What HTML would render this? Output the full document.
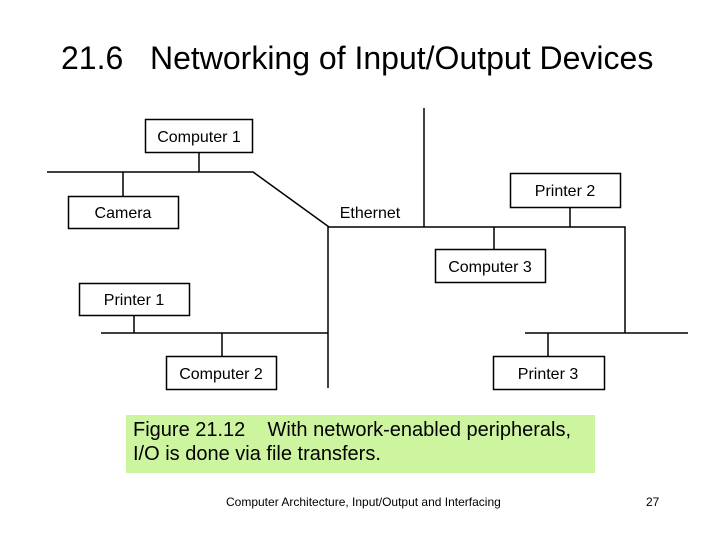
<!DOCTYPE html>
<html><head><meta charset="utf-8"><style>
body{margin:0;width:720px;height:540px;background:#fff;overflow:hidden;position:relative;font-family:"Liberation Sans",sans-serif}
.t{position:absolute;white-space:nowrap}
</style></head><body>
<div class="t" style="left:61px;top:40px;font-size:32px">21.6&nbsp;&nbsp; Networking of Input/Output Devices</div>
<svg width="720" height="540" style="position:absolute;left:0;top:0" font-family="Liberation Sans, sans-serif" font-size="16">
<g stroke="#000" fill="none" stroke-width="1.5">
<rect x="145.5" y="119.5" width="107" height="33"/>
<rect x="68.5" y="196.5" width="110" height="32"/>
<rect x="510.5" y="173.5" width="110" height="34"/>
<rect x="435.5" y="249.5" width="110" height="33"/>
<rect x="79.5" y="283.5" width="110" height="32"/>
<rect x="166.5" y="356.5" width="110" height="33"/>
<rect x="493.5" y="356.5" width="111" height="33"/>
<polyline points="47,172 253,172 329,227 625,227 625,333"/>
<line x1="199" y1="152" x2="199" y2="172"/>
<line x1="123" y1="172" x2="123" y2="196"/>
<line x1="424" y1="108" x2="424" y2="227"/>
<line x1="570" y1="207" x2="570" y2="227"/>
<line x1="494" y1="227" x2="494" y2="249"/>
<line x1="328" y1="227" x2="328" y2="388"/>
<line x1="101" y1="333" x2="328" y2="333"/>
<line x1="134" y1="315" x2="134" y2="333"/>
<line x1="222" y1="333" x2="222" y2="356"/>
<line x1="525" y1="333" x2="688" y2="333"/>
<line x1="548" y1="333" x2="548" y2="356"/>
</g>
<g fill="#000" text-anchor="middle">
<text x="199" y="142">Computer 1</text>
<text x="123" y="218">Camera</text>
<text x="565" y="196">Printer 2</text>
<text x="490" y="272">Computer 3</text>
<text x="134" y="305">Printer 1</text>
<text x="221" y="379">Computer 2</text>
<text x="548" y="379">Printer 3</text>
<text x="370" y="218">Ethernet</text>
</g>
</svg>
<div style="position:absolute;left:126px;top:415px;width:469px;height:58px;background:#cdf5a0"></div>
<div class="t" style="left:133px;top:418px;font-size:20px;line-height:24px">Figure 21.12&nbsp;&nbsp;&nbsp; With network-enabled peripherals,<br>I/O is done via file transfers.</div>
<div class="t" style="left:226px;top:495px;font-size:12px">Computer Architecture, Input/Output and Interfacing</div>
<div class="t" style="left:646px;top:495px;font-size:12px">27</div>
</body></html>
